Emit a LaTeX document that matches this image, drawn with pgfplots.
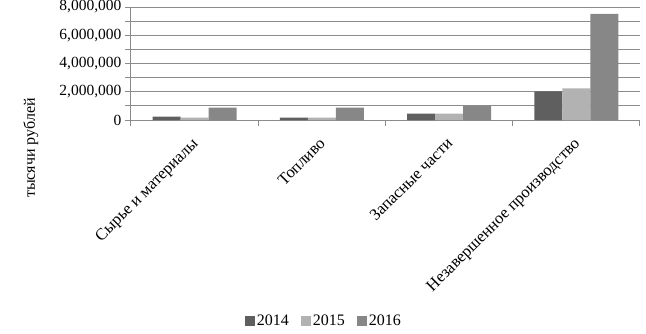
\documentclass[border=0pt]{standalone}
\usepackage{pgfplots}
\pgfplotsset{compat=1.18}
\usepackage{fontspec}
\setmainfont{Liberation Serif}
\definecolor{cA}{HTML}{5F5F5F}
\definecolor{cB}{HTML}{B2B2B2}
\definecolor{cC}{HTML}{878787}
\definecolor{gridc}{HTML}{8C8C8C}
\begin{document}
\begin{tikzpicture}[x=1pt,y=1pt]
\begin{axis}[
  at={(0,0)}, anchor=south west,
  scale only axis, width=509pt, height=113pt,
  ybar=0pt, bar width=0.22,
  xmin=-0.5, xmax=3.5,
  ymin=0, ymax=8000000,
  xtick={0,1,2,3},
  xticklabels={Сырье и материалы, Топливо, Запасные части, Незавершенное производство},
  major x tick style={draw=none},
  minor xtick={-0.5,0.5,1.5,2.5,3.5},
  minor x tick style={draw=gridc, line width=1pt},
  ytick={0,2000000,4000000,6000000,8000000},
  minor ytick={1000000,3000000,5000000,7000000},
  scaled y ticks=false,
  /pgf/number format/fixed,
  /pgf/number format/1000 sep={,},
  /pgf/number format/assume math mode=true,
  tick align=outside, tick pos=left,
  major tick length=6pt, minor tick length=6pt,
  ymajorgrids, yminorgrids,
  grid style={draw=gridc, line width=1pt},
  minor grid style={draw=gridc, line width=1pt},
  y tick style={draw=gridc, line width=1pt},
  axis x line*=bottom, axis y line*=left,
  axis line style={draw=gridc, line width=1pt},
  x axis line style={-}, y axis line style={-},
  xticklabel style={rotate=45, anchor=north east, font=\fontsize{16.5}{19}\selectfont, inner sep=1pt, xshift=-9pt, yshift=-4pt},
  yticklabel style={font=\fontsize{15.5}{18}\selectfont},
  legend style={at={(193pt,-201pt)}, anchor=center, draw=none, fill=none, legend columns=3,
    font=\fontsize{16}{18}\selectfont, /tikz/every even column/.append style={column sep=10pt}},
  legend image code/.code={\draw[#1, draw=none] (0cm,-5pt) rectangle (10pt,5pt);},
  clip=false,
]
\addplot[fill=cA, draw=none] coordinates {(0,240000) (1,160000) (2,450000) (3,2020000)};
\addplot[fill=cB, draw=none] coordinates {(0,160000) (1,170000) (2,450000) (3,2240000)};
\addplot[fill=cC, draw=none] coordinates {(0,880000) (1,880000) (2,1000000) (3,7520000)};
\legend{2014,2015,2016}
\end{axis}
\node[rotate=90, font=\fontsize{16}{18}\selectfont] at (-100,-28) {тысячи рублей};
\pgfresetboundingbox
\path[use as bounding box] (-131,-213) rectangle (515,120);
\end{tikzpicture}
\end{document}
